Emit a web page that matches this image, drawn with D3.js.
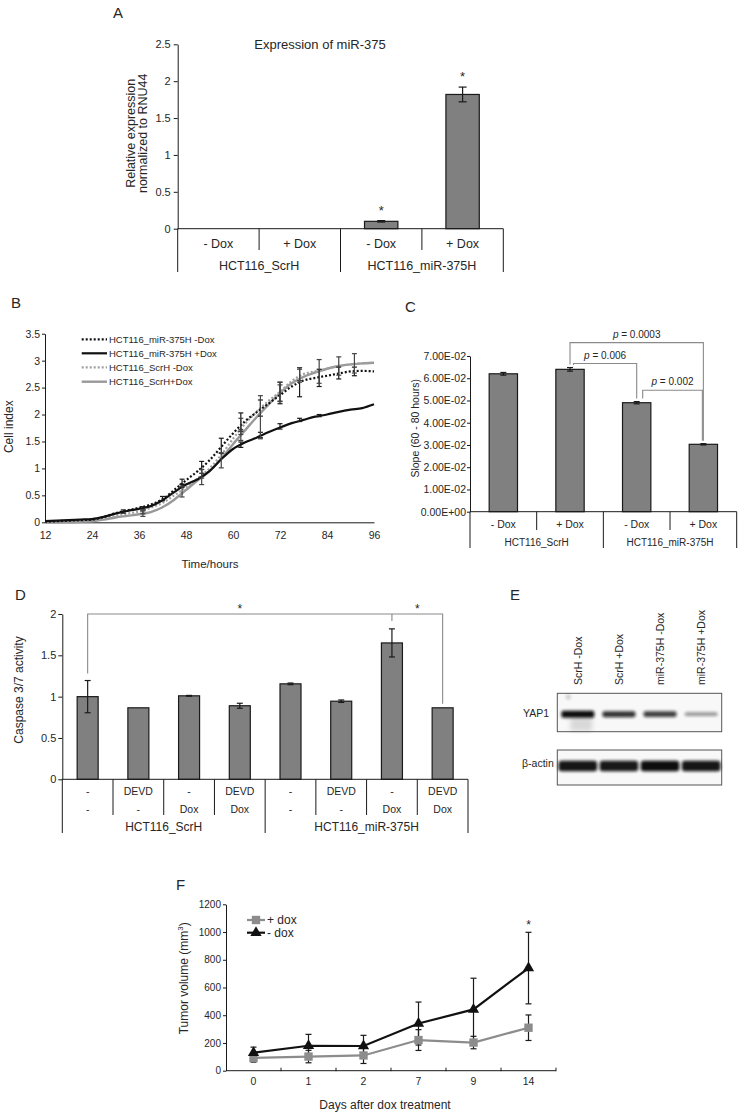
<!DOCTYPE html>
<html><head><meta charset="utf-8">
<script src="https://cdn.jsdelivr.net/npm/d3@7"></script>
<style>
body{margin:0;background:#fff;}
svg{display:block;font-family:"Liberation Sans",Arial,Helvetica,sans-serif;}
</style></head>
<body><svg id="fig" width="740" height="1114"></svg>
<script>
// ================= DATA =================
// Panel A – expression of miR-375
const aCategories = ["- Dox", "+ Dox", "- Dox", "+ Dox"];
const aGroups = ["HCT116_ScrH", "HCT116_miR-375H"];
const aValues = [0, 0, 0.10, 1.82];
const aErrors = [0, 0, 0.01, 0.10];
const aStars = [false, false, true, true];
const aTicks = [0, 0.5, 1, 1.5, 2, 2.5];

// Panel B – cell index over time
const bHours = [12,15,18,21,24,27,30,33,36,39,42,45,48,51,54,57,60,63,66,69,72,75,78,81,84,87,90,93,96];
const bMirMinus = [0.01,0.02,0.03,0.04,0.05,0.10,0.17,0.22,0.27,0.33,0.43,0.60,0.78,0.95,1.15,1.40,1.65,1.87,2.04,2.20,2.36,2.52,2.63,2.68,2.72,2.76,2.80,2.81,2.80];
const bMirPlus  = [0.02,0.03,0.04,0.05,0.06,0.10,0.16,0.21,0.25,0.30,0.41,0.56,0.70,0.80,0.95,1.17,1.36,1.48,1.57,1.67,1.76,1.84,1.90,1.96,2.00,2.05,2.09,2.12,2.19];
const bScrMinus = [0.00,0.00,0.01,0.02,0.03,0.07,0.12,0.16,0.20,0.27,0.36,0.50,0.65,0.82,1.00,1.25,1.55,1.82,2.05,2.25,2.42,2.62,2.75,2.80,2.85,2.90,2.93,2.95,2.96];
const bScrPlus  = [0.00,0.00,0.00,0.01,0.02,0.05,0.09,0.12,0.15,0.19,0.28,0.42,0.60,0.78,0.95,1.18,1.45,1.70,1.95,2.18,2.40,2.58,2.70,2.78,2.85,2.90,2.93,2.95,2.96];
const bSeriesNames = ["HCT116_miR-375H -Dox", "HCT116_miR-375H +Dox", "HCT116_ScrH -Dox", "HCT116_ScrH+Dox"];
// error bars: [hour, value, error]
const bErrMirMinus = [[32,0.20,0.03],[42,0.44,0.04],[47,0.75,0.05],[52,1.02,0.11],[57,1.42,0.14],[62,1.86,0.17],[67,2.12,0.15],[72,2.40,0.20],[77,2.60,0.27],[82,2.68,0.16],[87,2.77,0.11],[91,2.80,0.08]];
const bErrMirPlus  = [[37,0.26,0.03],[47,0.68,0.03],[62,1.44,0.05],[67,1.62,0.05],[72,1.78,0.05],[77,1.90,0.03],[82,1.98,0.02]];
const bErrScrMinus = [[37,0.20,0.04],[52,0.90,0.08],[62,1.78,0.15],[72,2.42,0.18],[77,2.75,0.12],[82,2.80,0.22],[87,2.90,0.17],[91,2.95,0.18]];
const bErrScrPlus  = [[37,0.16,0.05],[47,0.57,0.10],[52,0.84,0.14],[57,1.15,0.14],[62,1.62,0.10],[67,1.95,0.40],[72,2.40,0.15],[77,2.72,0.12]];
const bXTicks = [12,24,36,48,60,72,84,96];
const bYTicks = [0,0.5,1,1.5,2,2.5,3,3.5];

// Panel C – slope 60-80 h
const cCategories = ["- Dox", "+ Dox", "- Dox", "+ Dox"];
const cGroups = ["HCT116_ScrH", "HCT116_miR-375H"];
const cValues = [0.0620, 0.0640, 0.0490, 0.0303];
const cErrors = [0.0006, 0.0008, 0.0005, 0.0003];
const cTicks = [0,0.01,0.02,0.03,0.04,0.05,0.06,0.07];
const cPLabels = ["0.0003", "0.006", "0.002"];

// Panel D – caspase 3/7 activity
const dRow1 = ["-","DEVD","-","DEVD","-","DEVD","-","DEVD"];
const dRow2 = ["-","-","Dox","Dox","-","-","Dox","Dox"];
const dGroups = ["HCT116_ScrH", "HCT116_miR-375H"];
const dValues = [1.00, 0.865, 1.01, 0.89, 1.155, 0.945, 1.65, 0.865];
const dErrors = [0.195, 0, 0.005, 0.03, 0.01, 0.015, 0.17, 0];
const dTicks = [0,0.5,1,1.5,2];

// Panel E – western blot
const eLanes = ["ScrH -Dox", "ScrH +Dox", "miR-375H -Dox", "miR-375H +Dox"];
const eYap1 = [1.00, 0.80, 0.74, 0.28];
const eActin = [0.95, 0.93, 1.00, 0.95];

// Panel F – tumour volume
const fDays = ["0","1","2","7","9","14"];
const fPlus = [92, 102, 110, 221, 203, 310];
const fPlusErr = [30, 45, 58, 75, 45, 92];
const fMinus = [130, 180, 178, 340, 442, 740];
const fMinusErr = [40, 82, 77, 155, 225, 258];
const fTicks = [0,200,400,600,800,1000,1200];

// ================= DRAW =================
const svg = d3.select("#fig");
svg.append("rect").attr("width",740).attr("height",1114).attr("fill","#fff");
const INK = "#1a1a1a", TXT = "#262626", BAR = "#808080";

function letter(t,x,y){ svg.append("text").attr("x",x).attr("y",y).attr("font-size",15).attr("fill",TXT).text(t); }
function styleAxis(sel, fs){
  sel.attr("font-family", null).attr("font-size", fs);
  sel.selectAll("path.domain").attr("stroke", INK);
  sel.selectAll(".tick line").attr("stroke", INK);
  sel.selectAll(".tick text").attr("fill", TXT);
}
function errBar(g, cx, y1, y2, w, col){
  const c = col || INK;
  g.append("line").attr("x1",cx).attr("x2",cx).attr("y1",y1).attr("y2",y2).attr("stroke",c).attr("stroke-width",1.2);
  g.append("line").attr("x1",cx-w).attr("x2",cx+w).attr("y1",y1).attr("y2",y1).attr("stroke",c).attr("stroke-width",1.2);
  g.append("line").attr("x1",cx-w).attr("x2",cx+w).attr("y1",y2).attr("y2",y2).attr("stroke",c).attr("stroke-width",1.2);
}
function rotLabel(g, lines, cx, cy, fs, lh){
  const t = g.append("text").attr("transform",`translate(${cx},${cy}) rotate(-90)`)
    .attr("text-anchor","middle").attr("font-size",fs).attr("fill",TXT);
  lines.forEach((l,i)=> t.append("tspan").attr("x",0).attr("y", i*lh).text(l));
  return t;
}
function catAxis(g, band, y0, rows, rowYs, groups, groupY, perGroup, sepShort, sepLong, fsCat, fsGroup){
  const [x0,x1] = band.range();
  const n = band.domain().length;
  g.append("line").attr("x1",x0).attr("x2",x1).attr("y1",y0).attr("y2",y0).attr("stroke",INK);
  for(let i=0;i<=n;i++){
    const xb = x0 + i*band.step();
    const isG = i % perGroup === 0;
    g.append("line").attr("x1",xb).attr("x2",xb).attr("y1",y0).attr("y2", isG?sepLong:sepShort).attr("stroke",INK);
  }
  rows.forEach((row,ri)=>{
    g.selectAll(null).data(row).join("text")
      .attr("x",(d,i)=>band(i)+band.bandwidth()/2).attr("y",rowYs[ri])
      .attr("text-anchor","middle").attr("font-size",fsCat).attr("fill",TXT).text(d=>d);
  });
  g.selectAll(null).data(groups).join("text")
    .attr("x",(d,i)=>x0 + (i+0.5)*perGroup*band.step()).attr("y",groupY)
    .attr("text-anchor","middle").attr("font-size",fsGroup).attr("fill",TXT).text(d=>d);
}
function bars(g, band, y, values, errors, frac, cap){
  const bw = band.bandwidth()*frac;
  g.selectAll(null).data(values).join("rect")
    .attr("x",(d,i)=>band(i)+(band.bandwidth()-bw)/2).attr("width",bw)
    .attr("y",d=>y(d)).attr("height",d=>y(0)-y(d))
    .attr("fill",BAR).attr("stroke",INK).attr("stroke-width",1.2);
  values.forEach((v,i)=>{
    if(errors[i]>0){
      const cx = band(i)+band.bandwidth()/2;
      errBar(g, cx, y(v+errors[i]), y(v-errors[i]), cap);
    }
  });
}

// ---------- Panel A ----------
(function(){
  const g = svg.append("g");
  letter("A",113,18);
  const x = d3.scaleBand().domain(d3.range(aValues.length)).range([177.7,503.3]);
  const y = d3.scaleLinear().domain([0,2.5]).range([228.7,44.3]);
  const ax = g.append("g").attr("transform","translate(177.7,0)")
    .call(d3.axisLeft(y).tickValues(aTicks).tickSize(4).tickSizeOuter(0).tickPadding(3).tickFormat(d=>d));
  styleAxis(ax, 11);
  g.append("text").attr("x",320).attr("y",48.5).attr("text-anchor","middle").attr("font-size",13).attr("fill",TXT).text("Expression of miR-375");
  rotLabel(g, ["Relative expression","normalized to RNU44"], 134.5, 133.3, 12.5, 12.3);
  bars(g, x, y, aValues, aErrors, 0.41, 4);
  aValues.forEach((v,i)=>{
    if(aStars[i]) g.append("text").attr("x",x(i)+x.bandwidth()/2).attr("y",y(v+aErrors[i])-6)
      .attr("text-anchor","middle").attr("font-size",13).attr("fill",TXT).text("*");
  });
  catAxis(g, x, y(0), [aCategories], [247.8], aGroups, 269.5, 2, 250, 272, 12.5, 12.5);
})();

// ---------- Panel B ----------
(function(){
  const g = svg.append("g");
  letter("B",11,308);
  const x = d3.scaleLinear().domain([12,96]).range([45,374]);
  const y = d3.scaleLinear().domain([0,3.5]).range([522.3,333.7]);
  const ay = g.append("g").attr("transform","translate(45,0)")
    .call(d3.axisLeft(y).tickValues(bYTicks).tickSize(3).tickSizeOuter(0).tickPadding(2).tickFormat(d=>d));
  styleAxis(ay, 10.5);
  const axx = g.append("g").attr("transform","translate(0,522.3)")
    .call(d3.axisBottom(x).tickValues(bXTicks).tickSize(0).tickSizeOuter(0).tickPadding(9).tickFormat(d=>d));
  styleAxis(axx, 10.5);
  g.append("text").attr("x",210).attr("y",568).attr("text-anchor","middle").attr("font-size",11.5).attr("fill",TXT).text("Time/hours");
  rotLabel(g, ["Cell index"], 12.5, 426.7, 12, 0);

  const series = [bMirMinus, bMirPlus, bScrMinus, bScrPlus];
  const errs = [bErrMirMinus, bErrMirPlus, bErrScrMinus, bErrScrPlus];
  const styles = [
    {c:"#111", w:2.2, dash:"2,2"},
    {c:"#111", w:2.2, dash:null},
    {c:"#a0a0a0", w:2.2, dash:"2,2"},
    {c:"#999", w:2.4, dash:null}
  ];
  const line = d3.line().x(d=>x(d[0])).y(d=>y(d[1])).curve(d3.curveMonotoneX);
  [3,2,1,0].forEach(k=>{
    const pts = bHours.map((h,i)=>[h, series[k][i]]);
    g.append("path").attr("d",line(pts)).attr("fill","none").attr("stroke",styles[k].c)
      .attr("stroke-width",styles[k].w).attr("stroke-dasharray",styles[k].dash);
  });
  errs.forEach((arr,k)=>{
    arr.forEach(([h,v,e])=> errBar(g, x(h), y(v+e), y(v-e), 2.5, k>=2 ? "#444" : INK));
  });
  const ly = [339.3, 353.3, 367.3, 381.7];
  bSeriesNames.forEach((nm,k)=>{
    g.append("line").attr("x1",81.7).attr("x2",107).attr("y1",ly[k]).attr("y2",ly[k])
      .attr("stroke",styles[k].c).attr("stroke-width",styles[k].w).attr("stroke-dasharray",styles[k].dash);
    g.append("text").attr("x",109).attr("y",ly[k]+3.4).attr("font-size",9.5).attr("fill",TXT).text(nm);
  });
})();

// ---------- Panel C ----------
(function(){
  const g = svg.append("g");
  letter("C",405,312);
  const x = d3.scaleBand().domain(d3.range(cValues.length)).range([470,736.7]);
  const y = d3.scaleLinear().domain([0,0.07]).range([511.7,356]);
  const fmt = v => {
    if (Math.abs(v) < 1e-12) return "0.00E+00";
    const e = Math.floor(Math.log10(v) + 1e-9);
    const m = v / Math.pow(10, e);
    const es = (e<0?"-":"+") + String(Math.abs(e)).padStart(2,"0");
    return m.toFixed(2) + "E" + es;
  };
  const ay = g.append("g").attr("transform","translate(470,0)")
    .call(d3.axisLeft(y).tickValues(cTicks).tickSize(3).tickSizeOuter(0).tickPadding(1).tickFormat(fmt));
  styleAxis(ay, 10.5);
  rotLabel(g, ["Slope (60 - 80 hours)"], 419, 428.3, 10.5, 0);
  bars(g, x, y, cValues, cErrors, 0.425, 3);
  catAxis(g, x, y(0), [cCategories], [527.8], cGroups, 546, 2, 530, 548, 10.5, 10);
  const cx = i => x(i)+x.bandwidth()/2;
  const top = i => y(cValues[i]+cErrors[i]);
  const brackets = [
    {a:1, b:3, lvl:0.0760, aOff:0, bOff:0, aEnd: top(1)-3, bEnd: top(3)-3},
    {a:1, b:2, lvl:0.0666, aOff:3.5, bOff:0, aEnd: top(1)-2.5, bEnd: top(2)-3},
    {a:2, b:3, lvl:0.0546, aOff:6, bOff:-1, aEnd: top(2)-3, bEnd: top(3)-3}
  ];
  brackets.forEach((br,k)=>{
    const xa = cx(br.a)+br.aOff, xb = cx(br.b)+br.bOff, yl = y(br.lvl);
    g.append("path").attr("d",`M${xa},${br.aEnd}V${yl}H${xb}V${br.bEnd}`)
      .attr("fill","none").attr("stroke","#8a8a8a").attr("stroke-width",1.1);
    const t = g.append("text").attr("x",(xa+xb)/2).attr("y",yl-5).attr("text-anchor","middle")
      .attr("font-size",10).attr("fill",TXT);
    t.append("tspan").attr("font-style","italic").text("p");
    t.append("tspan").text(" = " + cPLabels[k]);
  });
})();

// ---------- Panel D ----------
(function(){
  const g = svg.append("g");
  letter("D",15,600);
  const x = d3.scaleBand().domain(d3.range(dValues.length)).range([62.3,468]);
  const y = d3.scaleLinear().domain([0,2]).range([779.3,614]);
  const ay = g.append("g").attr("transform","translate(62.3,0)")
    .call(d3.axisLeft(y).tickValues(dTicks).tickSize(4).tickSizeOuter(0).tickPadding(2).tickFormat(d=>d));
  styleAxis(ay, 11);
  rotLabel(g, ["Caspase 3/7 activity"], 22.5, 690, 12, 0);
  bars(g, x, y, dValues, dErrors, 0.414, 3);
  catAxis(g, x, y(0), [dRow1, dRow2], [794.5, 812.5], dGroups, 831, 4, 815, 833, 10.5, 12);
  const cx = i => x(i)+x.bandwidth()/2;
  const yl = y(2);
  g.append("path").attr("d",`M${cx(0)},${y(dValues[0]+dErrors[0])-7}V${yl}H${cx(7)}V${y(dValues[7])-4}`)
    .attr("fill","none").attr("stroke","#8a8a8a").attr("stroke-width",1.1);
  g.append("path").attr("d",`M${cx(6)},${yl}V${yl+7}`).attr("fill","none").attr("stroke","#8a8a8a").attr("stroke-width",1.1);
  [[cx(0),cx(6)],[cx(6),cx(7)]].forEach(([a,b])=>{
    g.append("text").attr("x",(a+b)/2).attr("y",yl-1).attr("text-anchor","middle").attr("font-size",12).attr("fill",TXT).text("*");
  });
})();

// ---------- Panel E ----------
(function(){
  const g = svg.append("g");
  letter("E",510,600);
  const defs = svg.append("defs");
  defs.append("filter").attr("id","blur").attr("x","-30%").attr("y","-100%").attr("width","160%").attr("height","300%")
    .append("feGaussianBlur").attr("stdDeviation",1.6);
  defs.append("filter").attr("id","blur2").attr("x","-50%").attr("y","-50%").attr("width","200%").attr("height","200%")
    .append("feGaussianBlur").attr("stdDeviation",2.5);
  const lane = d3.scaleBand().domain(eLanes).range([557.3,721.7]);
  eLanes.forEach(l=>{
    g.append("text").attr("transform",`translate(${lane(l)+lane.bandwidth()/2+4},685) rotate(-90)`)
      .attr("font-size",10.5).attr("fill",TXT).text(l);
  });
  g.append("rect").attr("x",557.3).attr("y",693.3).attr("width",164.4).attr("height",38.4)
    .attr("fill","#f8f8f8").attr("stroke","#555").attr("stroke-width",1);
  g.append("rect").attr("x",557.3).attr("y",750).attr("width",164.4).attr("height",35)
    .attr("fill","#f8f8f8").attr("stroke","#555").attr("stroke-width",1);
  g.append("text").attr("x",523).attr("y",717).attr("font-size",10.5).attr("fill",TXT).text("YAP1");
  g.append("text").attr("x",522).attr("y",766.5).attr("font-size",10.5).attr("fill",TXT).text("β-actin");
  const l0 = lane(eLanes[0]);
  g.append("rect").attr("x",l0+13).attr("y",717).attr("width",22).attr("height",14).attr("fill","#000").attr("opacity",0.12).attr("filter","url(#blur2)");
  g.append("circle").attr("cx",l0+11).attr("cy",697).attr("r",2.5).attr("fill","#000").attr("opacity",0.18).attr("filter","url(#blur)");
  eYap1.forEach((v,i)=>{
    const cxL = lane(eLanes[i]);
    const w = lane.bandwidth()*0.8, h = 2.5 + 4.5*v;
    g.append("rect").attr("x",cxL+(lane.bandwidth()-w)/2).attr("y",714.2-h/2).attr("width",w).attr("height",h)
      .attr("rx",2).attr("fill","#0a0a0a").attr("opacity",Math.min(1,0.2+0.8*v)).attr("filter","url(#blur)");
  });
  eActin.forEach((v,i)=>{
    const cxL = lane(eLanes[i]);
    const w = lane.bandwidth()*0.94, h = 7 + 3.5*v;
    g.append("rect").attr("x",cxL+(lane.bandwidth()-w)/2).attr("y",766-h/2).attr("width",w).attr("height",h)
      .attr("rx",3).attr("fill","#0a0a0a").attr("opacity",Math.min(1,0.25+0.75*v)).attr("filter","url(#blur)");
  });
})();

// ---------- Panel F ----------
(function(){
  const g = svg.append("g");
  letter("F",176,890);
  const x = d3.scaleBand().domain(fDays).range([226,556]);
  const y = d3.scaleLinear().domain([0,1200]).range([1070.7,904.3]);
  const ay = g.append("g").attr("transform","translate(226,0)")
    .call(d3.axisLeft(y).tickValues(fTicks).tickSize(3).tickSizeOuter(0).tickPadding(2).tickFormat(d=>d));
  styleAxis(ay, 10);
  g.append("line").attr("x1",226).attr("x2",556).attr("y1",y(0)).attr("y2",y(0)).attr("stroke",INK);
  for(let i=1;i<=fDays.length;i++){
    const xb = 226 + i*x.step();
    g.append("line").attr("x1",xb).attr("x2",xb).attr("y1",y(0)-3).attr("y2",y(0)+0.5).attr("stroke",INK);
  }
  g.selectAll(null).data(fDays).join("text").attr("x",d=>x(d)+x.bandwidth()/2).attr("y",1084.5)
    .attr("text-anchor","middle").attr("font-size",10.5).attr("fill",TXT).text(d=>d);
  g.append("text").attr("x",385).attr("y",1108.5).attr("text-anchor","middle").attr("font-size",12).attr("fill",TXT).text("Days after dox treatment");
  const yl = rotLabel(g, [], 187.5, 978.3, 12, 0);
  yl.append("tspan").text("Tumor volume (mm");
  yl.append("tspan").attr("font-size",8).attr("dy",-4.5).text("3");
  yl.append("tspan").attr("dy",4.5).text(")");

  const cx = d => x(d)+x.bandwidth()/2;
  const line = d3.line().x((d,i)=>cx(fDays[i])).y(d=>y(d));
  fDays.forEach((d,i)=>{
    errBar(g, cx(d), y(fPlus[i]+fPlusErr[i]), y(fPlus[i]-fPlusErr[i]), 3);
    errBar(g, cx(d), y(fMinus[i]+fMinusErr[i]), y(fMinus[i]-fMinusErr[i]), 3);
  });
  const GREY = "#8c8c8c";
  g.append("path").attr("d",line(fPlus)).attr("fill","none").attr("stroke",GREY).attr("stroke-width",2.2);
  g.append("path").attr("d",line(fMinus)).attr("fill","none").attr("stroke","#111").attr("stroke-width",2.2);
  const sq = d3.symbol().type(d3.symbolSquare).size(70);
  const tri = d3.symbol().type(d3.symbolTriangle).size(55);
  fDays.forEach((d,i)=>{
    g.append("path").attr("d",sq()).attr("transform",`translate(${cx(d)},${y(fPlus[i])})`).attr("fill",GREY);
    g.append("path").attr("d",tri()).attr("transform",`translate(${cx(d)},${y(fMinus[i])})`).attr("fill","#111");
  });
  const last = fDays.length-1;
  g.append("text").attr("x",cx(fDays[last])).attr("y",y(fMinus[last]+fMinusErr[last])-3)
    .attr("text-anchor","middle").attr("font-size",12).attr("fill",TXT).text("*");
  const legend = [{name:"+ dox", c:GREY, sym:sq, y:920}, {name:"- dox", c:"#111", sym:tri, y:932.7}];
  legend.forEach(L=>{
    g.append("line").attr("x1",247).attr("x2",265).attr("y1",L.y).attr("y2",L.y).attr("stroke",L.c).attr("stroke-width",2.2);
    g.append("path").attr("d",L.sym()).attr("transform",`translate(256,${L.y})`).attr("fill",L.c);
    g.append("text").attr("x",267).attr("y",L.y+4.3).attr("font-size",12).attr("fill",TXT).text(L.name);
  });
})();
</script>
</body></html>
